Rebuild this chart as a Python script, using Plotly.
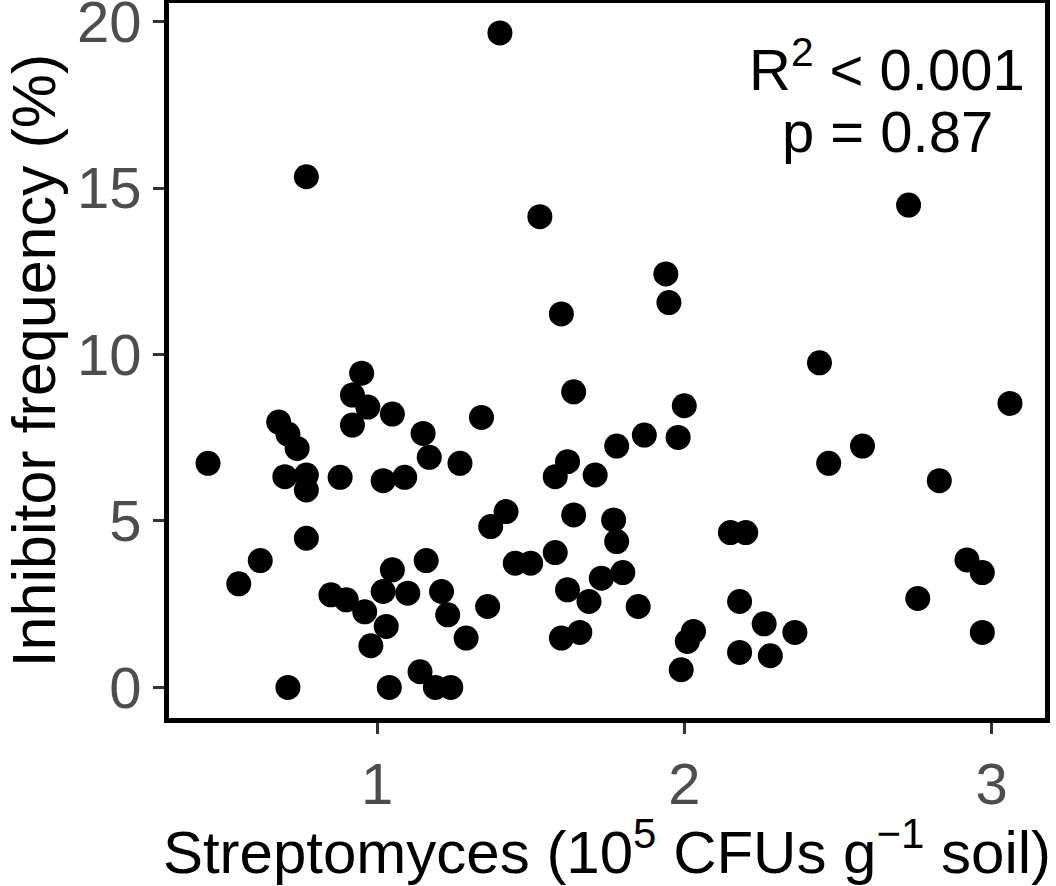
import plotly.graph_objects as go

# Streptomyces density (10^5 CFUs per g soil) and inhibitor frequency (%) per sample
streptomyces = [
    1.40, 0.77, 1.53, 2.73, 1.94, 1.95, 1.60, 2.44, 3.06, 1.64,
    2.00, 1.34, 2.58, 1.78, 1.87, 1.98, 2.47, 2.83, 0.45, 1.27,
    1.15, 1.17, 1.58, 1.62, 1.71, 1.02, 1.09, 0.88, 0.70, 0.77,
    0.77, 0.68, 0.71, 0.74, 0.95, 0.92, 0.97, 1.05, 0.92, 1.37,
    1.42, 1.64, 1.77, 1.78, 2.15, 2.20, 0.77, 0.62, 0.55, 1.16,
    1.45, 1.50, 1.58, 1.21, 1.23, 1.36, 1.29, 1.62, 1.73, 1.80,
    1.69, 1.85, 1.60, 1.66, 2.03, 2.01, 1.99, 2.18, 2.18, 2.26,
    2.36, 2.28, 2.76, 2.92, 2.97, 2.97, 0.71, 1.04, 1.14, 1.19,
    1.24, 0.85, 0.90, 0.96, 1.05, 1.10, 1.02, 1.03, 0.98,
]
inhibitor_freq = [
    19.66, 15.34, 14.14, 14.49, 12.42, 11.56, 11.22, 9.75, 8.53, 8.88,
    8.46, 8.11, 7.25, 7.25, 7.58, 7.51, 6.73, 6.21, 6.73, 6.73,
    7.63, 6.91, 6.33, 6.78, 6.38, 6.21, 6.31, 6.31, 6.33, 6.38,
    5.93, 7.97, 7.61, 7.18, 9.44, 8.78, 8.42, 8.21, 7.88, 4.83,
    5.28, 5.18, 5.03, 4.38, 4.65, 4.65, 4.48, 3.81, 3.11, 3.81,
    3.73, 3.73, 4.05, 2.88, 2.18, 2.43, 1.48, 2.93, 3.28, 3.45,
    2.58, 2.43, 1.48, 1.65, 1.68, 1.38, 0.53, 2.58, 1.05, 1.91,
    1.65, 0.95, 2.67, 3.83, 3.45, 1.65, 0.00, 0.00, 0.47, 0.00,
    0.00, 2.78, 2.63, 2.27, 3.53, 2.83, 2.88, 1.83, 1.25,
]

x_ticks = [1, 2, 3]
y_ticks = [0, 5, 10, 15, 20]
stat_lines = ["R<sup>2</sup> < 0.001", "p = 0.87"]

FONT = "Liberation Sans, Arial, sans-serif"
TICK_GREY = "#4D4D4D"

fig = go.Figure(
    go.Scatter(
        x=streptomyces,
        y=inhibitor_freq,
        mode="markers",
        marker=dict(size=25, color="black", line=dict(width=0)),
        showlegend=False,
    )
)

axis_common = dict(
    showgrid=False,
    zeroline=False,
    showline=True,
    mirror=True,
    linecolor="black",
    linewidth=5,
    ticks="outside",
    ticklen=11,
    tickwidth=3,
    tickcolor="#333333",
    ticklabeloverflow="allow",
    tickfont=dict(family=FONT, size=58, color=TICK_GREY),
)

fig.update_xaxes(
    range=[0.323, 3.174],
    tickvals=x_ticks,
    title=dict(
        text="Streptomyces (10<sup>5</sup> CFUs g<sup>\u22121</sup> soil)",
        font=dict(family=FONT, size=60, color="black"),
        standoff=18,
    ),
    **axis_common,
)
fig.update_yaxes(
    range=[-0.92, 20.56],
    tickvals=y_ticks,
    title=dict(
        text="Inhibitor frequency (%)",
        font=dict(family=FONT, size=61, color="black"),
        standoff=12,
    ),
    **axis_common,
)

# Regression statistics in the upper-right corner
for line_text, y_pos in zip(stat_lines, [0.913, 0.82]):
    fig.add_annotation(
        text=line_text,
        xref="paper",
        yref="paper",
        x=0.82,
        y=y_pos,
        xanchor="center",
        yanchor="middle",
        showarrow=False,
        font=dict(family=FONT, size=58, color="black"),
    )

fig.update_layout(
    width=1056,
    height=886,
    margin=dict(l=169, r=11, t=3, b=168, autoexpand=False),
    plot_bgcolor="white",
    paper_bgcolor="white",
)

fig.write_html("out.html")
